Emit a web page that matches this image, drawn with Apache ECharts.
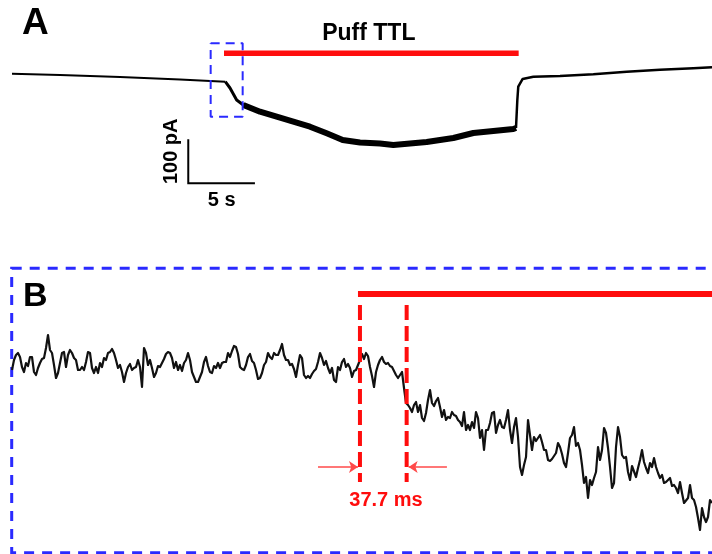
<!DOCTYPE html>
<html><head><meta charset="utf-8">
<script src="https://cdn.jsdelivr.net/npm/echarts@6/dist/echarts.min.js"></script>
<style>html,body{margin:0;padding:0;background:#fff}#c{width:712px;height:554px}</style>
</head><body><div id="c"></div>
<script>
// ---------- Panel A: whole-cell current during the puff (time in s, current in pA) ----------
const traceA_time_s = [0, 3.6, 8.1, 12.6, 16.0, 16.35, 16.85, 17.35, 18.6, 19.85, 21.1, 22.35, 23.6, 24.8, 26.1, 27.6, 28.6, 31.1, 33.1, 34.6, 36.1, 37.6, 37.8, 37.9, 37.97, 38.3, 39.1, 41.1, 43.6, 46.1, 48.6, 51.1, 52.5];
const traceA_pA     = [-1.5, -4.5, -9.1, -14.8, -19.8, -34.1, -61.4, -72.7, -88, -99.3, -110.7, -122, -137, -152.3, -158, -160, -163.6, -156.8, -147.7, -136.4, -131.8, -127.3, -125, -61.4, -31, -13.6, -8.4, -6.8, -3, 3, 7.5, 10.7, 13];
const puffA_s = [15.9, 38.0];          // Puff TTL on / off
const puffLevelA_pA = 44.8;
const insetA_s = [14.9, 17.3];         // dashed box = panel B window
const insetA_pA = [-99.3, 67.5];
const scaleBarA = { x_s: 13.22, y_pA: -250.7, pA: 100, s: 5 };

// ---------- Panel B: zoom on puff onset (time in ms, current in pA) ----------
const traceB_firstSample_ms = -280.9;
const traceB_sampleInterval_ms = 1.6146;
const traceB_pA = [
 -10,0,5,7,3,-7,-12,-3,-6,3,3,-12,-15,-8,-3,1,2,12,25,10,7,-5,-18,-13,-3,7,8,-7,5,10,7,2,0,-10,-10,-7,-10,-2,8,7,-8,-13,-7,-13,-3,-7,2,0,7,8,11,7,0,-8,-5,-12,-22,-13,-7,-4,-10,-8,
 -7,0,-7,-27,12,7,-5,0,-8,-17,-13,-6,-7,-3,1,6,8,7,2,-8,-2,-10,-5,-11,-3,0,7,0,-12,-17,-22,-22,-17,-12,-2,3,-6,-12,-13,-6,-8,-3,-8,-3,-2,-2,7,3,9,14,13,6,-7,-9,-10,-5,3,6,-1,-3,
 -10,-19,-18,-13,-5,-2,7,3,1,7,5,5,10,16,5,0,0,-5,-4,-9,-17,-5,5,2,-15,-18,-16,-18,-14,-11,-9,-2,7,2,-5,-1,-8,-13,-8,-20,-22,-7,-10,-2,1,-7,-4,-8,-17,-11,-10,-5,0,6,1,7,4,-7,-16,-27,
 -12,-5,0,3,-2,-4,-3,-6,-7,-11,-15,-18,-15,-12,-28,-43,-45,-48,-52,-45,-42,-52,-45,-58,-61,-53,-40,-30,-43,-46,-41,-38,-47,-57,-50,-60,-57,-58,-52,-55,-56,-60,-62,-66,-52,-70,-65,-70,-62,-68,-52,-58,-78,-70,-90,-70,-70,-63,
 -53,-52,-73,-65,-60,-67,-68,-60,-50,-70,-83,-67,-58,-77,-107,-115,-105,-97,-60,-60,-90,-77,-81,-78,-75,-82,-90,-90,-100,-101,-99,-97,-93,-83,-87,-94,-103,-107,-93,-78,-75,-67,-86,-83,-90,-105,-123,-117,-138,-120,-125,-118,-112,-87,-100,-90,-68,
 -73,-88,-107,-128,-123,-87,-67,-77,-95,-98,-97,-112,-120,-106,-107,-117,-108,-100,-90,-102,-108,-113,-103,-107,-98,-107,-113,-118,-115,-123,-122,-123,-118,-126,-125,-128,-133,-122,-133,-143,-145,-138,-125,-138,-140,-147,-158,-170,-148,-157,-162,-157,-140,-143
];
const puffOnsetB_ms = 0;
const latency_ms = 37.7;
const puffLevelB_pA = 66;
const markerTopB_pA = 55, markerBottomB_pA = -122;
const arrowLevelB_pA = -107;
const arrowLeftB_ms = [-33.9, -1.6];
const arrowRightB_ms = [70.2, 39.3];

// ---------- build ----------
const FONT = "'Liberation Sans', Arial, sans-serif";
const RED = '#ff0d0d', BLUE = '#2a2aff';
const A = traceA_time_s.map((t, i) => [t, traceA_pA[i]]);
const B = traceB_pA.map((v, i) => [traceB_firstSample_ms + i * traceB_sampleInterval_ms, v]);
const seg = (a, b) => A.slice(a, b + 1);
const lineA = (data, w, color, extra) => Object.assign({ type: 'line', xAxisIndex: 0, yAxisIndex: 0, data, symbol: 'none', silent: true, lineStyle: { width: w, color: color, join: 'round', cap: 'butt' } }, extra || {});
const lineB = (data, w, color, extra) => Object.assign({ type: 'line', xAxisIndex: 1, yAxisIndex: 1, data, symbol: 'none', silent: true, lineStyle: { width: w, color: color, join: 'round', cap: 'butt' } }, extra || {});

const option = {
  animation: false,
  backgroundColor: '#fff',
  grid: [
    { left: 12, top: 11.4, width: 700, height: 202.4 },
    { left: 12, top: 268, width: 700, height: 285 }
  ],
  xAxis: [
    { type: 'value', gridIndex: 0, min: 0, max: 52.5, show: false },
    { type: 'value', gridIndex: 1, min: -280.9, max: 284.2, show: false }
  ],
  yAxis: [
    { type: 'value', gridIndex: 0, min: -320, max: 140, show: false },
    { type: 'value', gridIndex: 1, min: -193, max: 92, show: false }
  ],
  series: [
    lineA(seg(0, 4), 2, '#000'),
    lineA(seg(4, 7), 3, '#000'),
    lineA(seg(7, 22), 6, '#000'),
    lineA(seg(22, A.length - 1), 2.5, '#000'),
    lineA([[puffA_s[0], puffLevelA_pA], [puffA_s[1], puffLevelA_pA]], 5.5, RED),
    lineA([[insetA_s[0], insetA_pA[1]], [insetA_s[1], insetA_pA[1]], [insetA_s[1], insetA_pA[0]], [insetA_s[0], insetA_pA[0]], [insetA_s[0], insetA_pA[1]]], 2, BLUE, { lineStyle: { width: 2, color: BLUE, type: [9, 6] } }),
    lineA([[scaleBarA.x_s, scaleBarA.y_pA + scaleBarA.pA], [scaleBarA.x_s, scaleBarA.y_pA], [scaleBarA.x_s + scaleBarA.s, scaleBarA.y_pA]], 2, '#000', { lineStyle: { width: 2, color: '#000', join: 'miter' } }),

    lineB(B, 2.2, '#111', {
      markLine: {
        silent: true, animation: false, symbol: ['none', 'arrow'], symbolSize: 9,
        label: { show: false },
        lineStyle: { color: '#ff4a4a', width: 1.5, type: 'solid' },
        data: [
          [{ coord: [arrowLeftB_ms[0], arrowLevelB_pA] }, { coord: [arrowLeftB_ms[1], arrowLevelB_pA] }],
          [{ coord: [arrowRightB_ms[0], arrowLevelB_pA] }, { coord: [arrowRightB_ms[1], arrowLevelB_pA] }]
        ]
      }
    }),
    lineB([[puffOnsetB_ms - 1.6, puffLevelB_pA], [284.2, puffLevelB_pA]], 6, RED),
    lineB([[puffOnsetB_ms, markerTopB_pA], [puffOnsetB_ms, markerBottomB_pA]], 4, RED, { lineStyle: { width: 4, color: RED, type: [15, 6] } }),
    lineB([[latency_ms, markerTopB_pA], [latency_ms, markerBottomB_pA]], 4, RED, { lineStyle: { width: 4, color: RED, type: [15, 6] } })
  ]
};

const chart = echarts.init(document.getElementById('c'), null, { renderer: 'canvas' });
chart.setOption(option);
const px = (g, pt) => chart.convertToPixel({ gridIndex: g }, pt);
const ttlMid = px(0, [(puffA_s[0] + puffA_s[1]) / 2, puffLevelA_pA]);
const barTop = px(0, [scaleBarA.x_s, scaleBarA.y_pA + scaleBarA.pA]);
const barMidH = px(0, [scaleBarA.x_s + scaleBarA.s / 2, scaleBarA.y_pA]);
const latMid = px(1, [latency_ms / 2, arrowLevelB_pA]);
const txt = (text, x, y, size, color, align, extra) => Object.assign({
  type: 'text', x: x, y: y, silent: true, z: 10,
  style: { text: text, font: 'bold ' + size + 'px ' + FONT, fill: color, align: align, textAlign: align, verticalAlign: 'middle', textVerticalAlign: 'middle' }
}, extra || {});
chart.setOption({
  graphic: [
    { type: 'rect', z: 0, silent: true, shape: { x: 11.7, y: 268.3, width: 760, height: 284.4 }, style: { fill: 'none', stroke: BLUE, lineWidth: 3, lineDash: [10, 8] } },
    txt('A', 22, 23.5, 37, '#000', 'left'),
    txt('B', 23, 296.5, 34, '#000', 'left'),
    txt('Puff TTL', ttlMid[0] - 2.5, ttlMid[1] - 20, 23, '#000', 'center'),
    txt('100 pA', barTop[0] - 17, barTop[1] + 12, 20, '#000', 'center', { rotation: Math.PI / 2 }),
    txt('5 s', barMidH[0], barMidH[1] + 17, 20, '#000', 'center'),
    txt('37.7 ms', latMid[0] + 2.7, latMid[1] + 33, 20, RED, 'center')
  ]
});
</script>
</body></html>
